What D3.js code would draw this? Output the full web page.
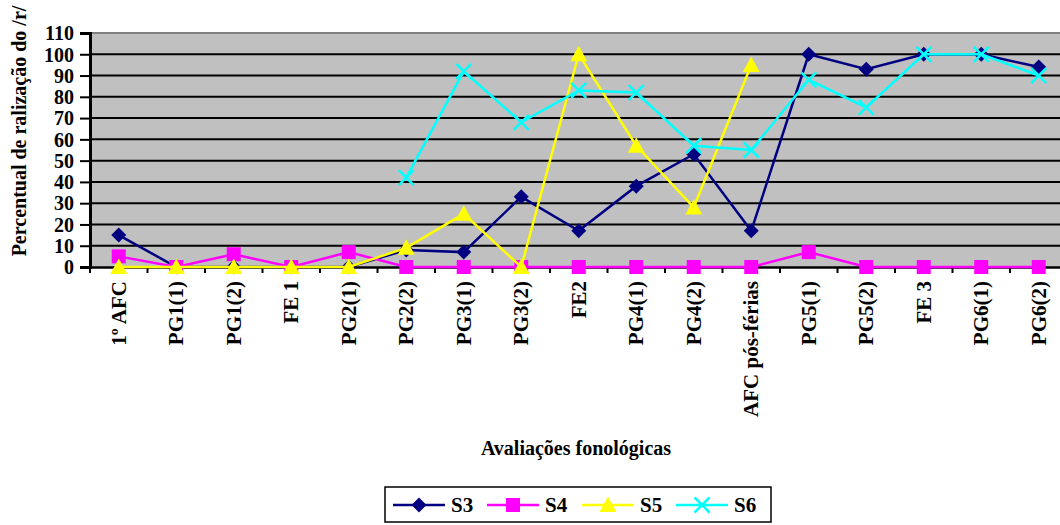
<!DOCTYPE html>
<html><head><meta charset="utf-8">
<script src="https://cdn.jsdelivr.net/npm/d3@7"></script>
<style>
body{margin:0;background:#fff;}
svg{display:block;font-family:"Liberation Serif","Times New Roman",serif;font-weight:bold;}
</style></head>
<body><svg id="c" width="1060" height="525"></svg>
<script>
const categories = ["1º AFC","PG1(1)","PG1(2)","FE 1","PG2(1)","PG2(2)","PG3(1)","PG3(2)","FE2","PG4(1)","PG4(2)","AFC pós-férias","PG5(1)","PG5(2)","FE 3","PG6(1)","PG6(2)"];
const s3 = [15,0,0,0,0,8,7,33,17,38,53,17,100,93,100,100,94];
const s4 = [5,0,6,0,7,0,0,0,0,0,0,0,7,0,0,0,0];
const s5 = [0,0,0,0,0,9,25,0,100,57,28,95,null,null,null,null,null];
const s6 = [null,null,null,null,null,42,92,68,83,82,57,55,88,75,100,100,90];
const seriesNames = ["S3","S4","S5","S6"];
const yTicks = [0,10,20,30,40,50,60,70,80,90,100,110];

const svg = d3.select("#c");
const L=90, T=33, B=267, band=57.5;
const R = L + band*categories.length;
const x = d3.scaleBand().domain(categories).range([L,R]).paddingInner(0).paddingOuter(0);
const y = d3.scaleLinear().domain([0,110]).range([B,T]);

// plot background
svg.append("rect").attr("x",L).attr("y",T).attr("width",R-L).attr("height",B-T).attr("fill","#C0C0C0");
// grid lines
svg.append("g").selectAll("line").data(yTicks.filter(v=>v>0&&v<110)).join("line")
  .attr("x1",L).attr("x2",R).attr("y1",d=>y(d)).attr("y2",d=>y(d))
  .attr("stroke","#000").attr("stroke-width",2);
svg.append("line").attr("x1",L).attr("x2",R).attr("y1",y(110)).attr("y2",y(110)).attr("stroke","#808080").attr("stroke-width",2);

// y axis
const yAxis = svg.append("g").attr("transform",`translate(${L},0)`)
  .call(d3.axisLeft(y).tickValues(yTicks).tickSize(10).tickPadding(6));
yAxis.select(".domain").attr("stroke","#000").attr("stroke-width",3);
yAxis.selectAll(".tick line").attr("stroke","#000").attr("stroke-width",2);
yAxis.selectAll("text").attr("font-size",20).attr("font-family","Liberation Serif").attr("font-weight","bold").attr("fill","#000").attr("dy","0.34em");

// x axis
const xAxis = svg.append("g").attr("transform",`translate(0,${B})`)
  .call(d3.axisBottom(x).tickSize(0).tickFormat(""));
xAxis.select(".domain").attr("stroke","#000").attr("stroke-width",2.5);
xAxis.selectAll(".tick").remove();
svg.append("g").selectAll("line").data(d3.range(categories.length+1)).join("line")
  .attr("x1",i=>L+i*x.bandwidth()).attr("x2",i=>L+i*x.bandwidth())
  .attr("y1",B).attr("y2",B+6).attr("stroke","#000").attr("stroke-width",2);
svg.append("g").selectAll("text").data(categories).join("text")
  .attr("transform",d=>`translate(${x(d)+x.bandwidth()/2+7},${B+14}) rotate(-90)`)
  .attr("text-anchor","end").attr("font-size",21).attr("fill","#000").text(d=>d);

// titles
svg.append("text").attr("transform","translate(26,131) rotate(-90)").attr("text-anchor","middle")
  .attr("font-size",20).attr("fill","#000").text("Percentual de ralização do /r/");
svg.append("text").attr("x",576).attr("y",455).attr("text-anchor","middle")
  .attr("font-size",20).attr("fill","#000").text("Avaliações fonológicas");

// series
const colors = ["#000080","#FF00FF","#FFFF00","#00FFFF"];
const data = [s3,s4,s5,s6];
function marker(g, k, cx, cy){
  const c = colors[k];
  if(k===0){ g.append("path").attr("d",`M${cx},${cy-7.5}L${cx+7.5},${cy}L${cx},${cy+7.5}L${cx-7.5},${cy}Z`).attr("fill",c); }
  else if(k===1){ g.append("rect").attr("x",cx-7).attr("y",cy-7).attr("width",14).attr("height",14).attr("fill",c); }
  else if(k===2){ g.append("path").attr("d",`M${cx},${cy-8.5}L${cx+8.5},${cy+7}L${cx-8.5},${cy+7}Z`).attr("fill",c); }
  else { g.append("path").attr("d",`M${cx-7.5},${cy-7.5}L${cx+7.5},${cy+7.5}M${cx+7.5},${cy-7.5}L${cx-7.5},${cy+7.5}`).attr("stroke",c).attr("stroke-width",2.5).attr("fill","none"); }
}
const line = d3.line().defined(d=>d.v!==null).x(d=>x(d.c)+x.bandwidth()/2).y(d=>y(d.v));
data.forEach((arr,k)=>{
  const pts = arr.map((v,i)=>({c:categories[i],v}));
  const g = svg.append("g");
  g.append("path").datum(pts).attr("d",line).attr("fill","none").attr("stroke",colors[k]).attr("stroke-width",2.5);
  pts.filter(p=>p.v!==null).forEach(p=>marker(g,k,x(p.c)+x.bandwidth()/2,y(p.v)));
});

// legend
const lg = svg.append("g");
lg.append("rect").attr("x",385).attr("y",487).attr("width",386).attr("height",35).attr("fill","#fff").attr("stroke","#000").attr("stroke-width",1.5);
const lx = [393,487,582,676];
seriesNames.forEach((n,k)=>{
  const cy = 505;
  lg.append("line").attr("x1",lx[k]).attr("x2",lx[k]+52).attr("y1",cy).attr("y2",cy).attr("stroke",colors[k]).attr("stroke-width",2.5);
  marker(lg,k,lx[k]+26,cy);
  lg.append("text").attr("x",lx[k]+58).attr("y",cy+7).attr("font-size",21).attr("fill","#000").text(n);
});
</script></body></html>
